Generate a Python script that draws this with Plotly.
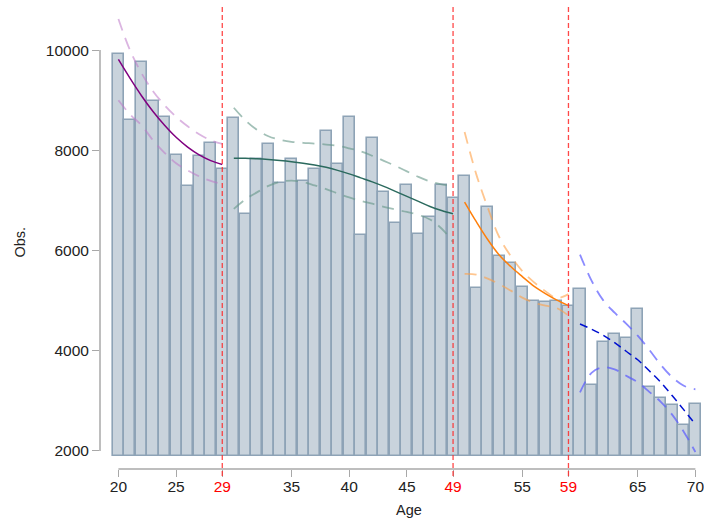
import plotly.graph_objects as go

# Observations by age
ages = list(range(20, 71))
obs = [9920, 8613, 9753, 8980, 8667, 7913, 7293, 7880, 8153, 7633,
       8653, 6733, 7820, 8133, 7340, 7833, 7393, 7620, 8393, 7733,
       8673, 6307, 8253, 7167, 6553, 7313, 6333, 6667, 7300, 7047,
       7487, 5253, 6867, 5893, 5747, 5280, 4990, 4973, 4987, 4887,
       5233, 3313, 4167, 4327, 4253, 4833, 3273, 3067, 2920, 2513, 2933]
bar_base = 1900

# Segment fits with confidence bands
seg1_age = list(range(20, 30))
seg1_fit = [9813, 9440, 9090, 8775, 8500, 8260, 8065, 7910, 7795, 7715]
seg1_hi = [10620, 10000, 9540, 9180, 8900, 8670, 8480, 8320, 8200, 8130]
seg1_lo = [9000, 8720, 8500, 8200, 7950, 7740, 7600, 7480, 7390, 7330]

seg2_age = list(range(30, 50))
seg2_fit = [7840, 7840, 7830, 7815, 7795, 7770, 7740, 7705, 7660, 7600,
            7530, 7450, 7370, 7280, 7180, 7080, 6980, 6880, 6800, 6733]
seg2_hi = [8850, 8600, 8410, 8280, 8210, 8170, 8150, 8135, 8115, 8090,
           8040, 7980, 7890, 7790, 7690, 7580, 7470, 7380, 7320, 7290]
seg2_lo = [6830, 7020, 7160, 7290, 7370, 7395, 7370, 7300, 7225, 7140,
           7060, 6990, 6935, 6870, 6820, 6770, 6710, 6620, 6440, 6170]

seg3_age = list(range(50, 60))
seg3_fit = [6967, 6580, 6220, 5910, 5680, 5480, 5290, 5140, 5010, 4900]
seg3_hi = [8367, 7530, 6860, 6270, 5890, 5590, 5370, 5190, 5050, 5130]
seg3_lo = [5533, 5520, 5440, 5330, 5200, 5060, 4960, 4900, 4850, 4700]

seg4_age = list(range(60, 71))
seg4_fit = [4533, 4430, 4310, 4160, 3990, 3820, 3600, 3370, 3100, 2820, 2530]
seg4_hi = [5920, 5400, 5010, 4760, 4540, 4300, 4020, 3720, 3470, 3300, 3230]
seg4_lo = [3167, 3560, 3670, 3630, 3500, 3370, 3180, 2980, 2720, 2380, 1980]

cutoffs = [29, 49, 59]
x_ticks = [20, 25, 29, 35, 40, 45, 49, 55, 59, 65, 70]
y_ticks = [2000, 4000, 6000, 8000, 10000]

fig = go.Figure()

fig.add_trace(go.Bar(
    x=ages, y=[v - bar_base for v in obs], base=bar_base, width=0.96,
    marker=dict(color="#c9d3dc", line=dict(color="#8ea3b6", width=1.6)),
    showlegend=False, hoverinfo="skip"))

segments = [
    (seg1_age, seg1_fit, seg1_hi, seg1_lo, "#800080", "solid", "rgba(190,120,200,0.55)"),
    (seg2_age, seg2_fit, seg2_hi, seg2_lo, "#2b6a5e", "solid", "rgba(100,150,135,0.6)"),
    (seg3_age, seg3_fit, seg3_hi, seg3_lo, "#ff7f0a", "solid", "rgba(255,160,70,0.6)"),
    (seg4_age, seg4_fit, seg4_hi, seg4_lo, "#0010d0", "8px,5px", "rgba(90,90,255,0.7)"),
]
for a, f, hi, lo, col, dash, cicol in segments:
    for band in (hi, lo):
        fig.add_trace(go.Scatter(
            x=a, y=band, mode="lines",
            line=dict(color=cicol, width=1.8, dash="12px,8px", shape="spline"),
            showlegend=False, hoverinfo="skip"))
    fig.add_trace(go.Scatter(
        x=a, y=f, mode="lines", line=dict(color=col, width=1.5, dash=dash, shape="spline"),
        showlegend=False, hoverinfo="skip"))

shapes = []
for c in cutoffs:
    shapes.append(dict(type="line", xref="x", yref="paper", x0=c, x1=c, y0=-0.015, y1=1,
                       line=dict(color="rgba(255,40,40,0.85)", width=1.3, dash="5px,3px")))
# axis lines spanning the tick range
shapes.append(dict(type="line", xref="paper", yref="y", x0=0, x1=0, y0=2000, y1=10000,
                   line=dict(color="#a8a8a8", width=1.5)))
shapes.append(dict(type="line", xref="x", yref="paper", x0=20, x1=70, y0=0, y1=0,
                   line=dict(color="#a8a8a8", width=1.5)))

x_text = [f'<span style="color:#ff0000">{t}</span>' if t in cutoffs else str(t) for t in x_ticks]
y_text = [str(t) for t in y_ticks]

fig.update_layout(
    width=704, height=525,
    margin=dict(l=100, r=0, t=5, b=56),
    plot_bgcolor="white", paper_bgcolor="white",
    font=dict(family="Liberation Sans, Arial, sans-serif", size=15, color="#222"),
    bargap=0,
    shapes=shapes,
    xaxis=dict(range=[18.405, 70.745], tickmode="array", tickvals=x_ticks, ticktext=x_text,
               ticks="outside", ticklen=7, tickwidth=1.3, tickcolor="#a8a8a8",
               showgrid=False, zeroline=False, showline=False,
               ticklabeloverflow="allow", ticklabelstandoff=-4,
               tickfont=dict(size=15.5)),
    yaxis=dict(range=[1640, 10900], tickmode="array", tickvals=y_ticks, ticktext=y_text,
               ticks="outside", ticklen=7, tickwidth=1.3, tickcolor="#a8a8a8",
               showgrid=False, zeroline=False, showline=False,
               tickfont=dict(size=15.5)),
    annotations=[
        dict(text="Obs.", xref="paper", yref="paper", x=-80 / 604, y=0.488, textangle=-90,
             showarrow=False, xanchor="center", yanchor="middle", font=dict(size=14.5)),
        dict(text="Age", xref="x", yref="paper", x=45.2, y=-41 / 464,
             showarrow=False, xanchor="center", yanchor="middle", font=dict(size=14.5)),
    ],
)

fig.write_html("out.html")
